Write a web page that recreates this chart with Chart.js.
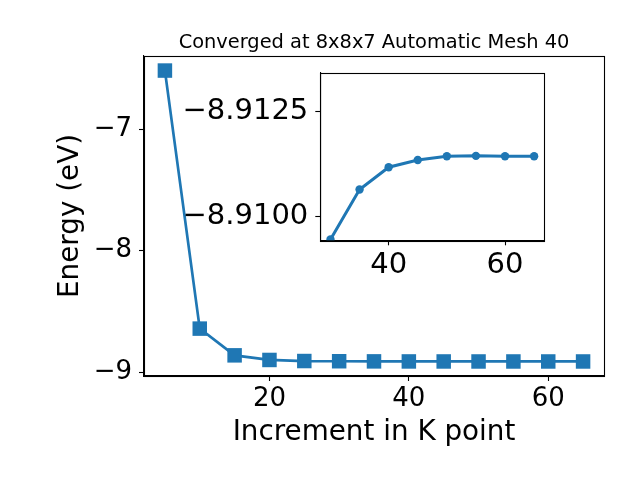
<!DOCTYPE html>
<html>
<head>
<meta charset="utf-8">
<script src="https://cdn.jsdelivr.net/npm/chart.js@4/dist/chart.umd.min.js"></script>
<style>
  html, body { margin: 0; padding: 0; background: #ffffff; }
  #wrap { position: relative; width: 640px; height: 480px; }
  #main { position: absolute; left: 0; top: 0; }
  #inset { position: absolute; left: 160px; top: 60px; }
</style>
</head>
<body>
<div id="wrap">
  <canvas id="main" width="640" height="480"></canvas>
  <canvas id="inset" width="420" height="240"></canvas>
</div>
<script>
// ---- data ----
const kPoints = [5, 10, 15, 20, 25, 30, 35, 40, 45, 50, 55, 60, 65];
const energies = [-6.517, -8.641, -8.861, -8.899, -8.9078, -8.90945, -8.91064, -8.91117, -8.91134, -8.91143, -8.91144, -8.91143, -8.91143];
const insetStartK = 30;
const mainXTicks = [20, 40, 60];
const mainYTicks = [-9, -8, -7];
const insetXTicks = [40, 60];
const insetYTicks = [-8.9125, -8.9100];
const titleText = 'Converged at 8x8x7 Automatic Mesh 40';
const xLabel = 'Increment in K point';
const yLabel = 'Energy (eV)';

const BLUE = '#1f77b4';
const FONT = "'DejaVu Sans', sans-serif";
const minus = v => (v < 0 ? '\u2212' : '') + Math.abs(v);

const mainPoints = kPoints.map((k, i) => ({ x: k, y: energies[i] }));
const insetPoints = mainPoints.filter(p => p.x >= insetStartK);

const frame = {
  id: 'frame',
  afterDraw(chart) {
    const a = chart.chartArea, ctx = chart.ctx;
    ctx.save();
    ctx.strokeStyle = '#000';
    ctx.lineWidth = 1.1;
    ctx.strokeRect(Math.round(a.left) + 0.5, Math.round(a.top) + 0.5,
                   Math.round(a.right - a.left), Math.round(a.bottom - a.top));
    ctx.restore();
  }
};

function axisCommon(fontSize) {
  return {
    grid: { display: true, drawOnChartArea: false, drawTicks: true, tickLength: 5, tickColor: '#000', tickWidth: 1.1 },
    border: { display: true, color: '#000', width: 1.1 },
    ticks: { color: '#000', font: { family: FONT, size: fontSize }, maxRotation: 0, autoSkip: false }
  };
}
const fixW = w => s => { s.width = w; s.paddingTop = 0; s.paddingBottom = 0; s.paddingLeft = 0; s.paddingRight = 0; };
const fixH = h => s => { s.height = h; s.paddingTop = 0; s.paddingBottom = 0; s.paddingLeft = 0; s.paddingRight = 0; };

// ---- main chart ----
const mx = axisCommon(26);
const my = axisCommon(26);
new Chart(document.getElementById('main'), {
  type: 'line',
  data: { datasets: [{
    data: mainPoints,
    borderColor: BLUE, backgroundColor: BLUE,
    borderWidth: 2.7,
    pointStyle: 'rect', pointRadius: 10.25, pointBorderWidth: 0,
    pointBackgroundColor: BLUE,
    tension: 0
  }]},
  options: {
    responsive: false, animation: false, devicePixelRatio: 1,
    layout: { padding: { left: 0, right: 36, top: 0, bottom: 0 } },
    plugins: {
      legend: { display: false }, tooltip: { enabled: false },
      title: {
        display: true, text: titleText, fullSize: false, color: '#000',
        font: { family: FONT, size: 19.4, weight: 'normal', lineHeight: 1.2 },
        padding: { top: 31.4, bottom: 1.3 }
      }
    },
    scales: {
      x: {
        type: 'linear', min: 2, max: 68,
        grid: mx.grid, border: mx.border,
        ticks: Object.assign({}, mx.ticks, { padding: 3, callback: v => minus(v) }),
        afterBuildTicks: s => { s.ticks = mainXTicks.map(v => ({ value: v })); },
        afterFit: fixH(104),
        title: { display: true, text: xLabel, color: '#000', font: { family: FONT, size: 27.8, lineHeight: 1.2 }, padding: { top: 0, bottom: 30.5 } }
      },
      y: {
        type: 'linear', min: -9.031, max: -6.397,
        grid: my.grid, border: my.border,
        ticks: Object.assign({}, my.ticks, { padding: 7, callback: v => minus(v) }),
        afterBuildTicks: s => { s.ticks = mainYTicks.map(v => ({ value: v })); },
        afterFit: fixW(144),
        title: { display: true, text: yLabel, color: '#000', font: { family: FONT, size: 27.8, lineHeight: 1.2 }, padding: { top: 54.5, bottom: 0 } }
      }
    }
  },
  plugins: [frame]
});

// ---- inset chart ----
const ix = axisCommon(29);
const iy = axisCommon(29);
new Chart(document.getElementById('inset'), {
  type: 'line',
  data: { datasets: [{
    data: insetPoints,
    borderColor: BLUE, backgroundColor: BLUE,
    borderWidth: 3,
    pointStyle: 'circle', pointRadius: 4.2, pointBorderWidth: 0,
    pointBackgroundColor: BLUE,
    tension: 0,
    clip: 0
  }]},
  options: {
    responsive: false, animation: false, devicePixelRatio: 1,
    layout: { padding: { left: 0, right: 35.7, top: 12.7, bottom: 0 } },
    plugins: { legend: { display: false }, tooltip: { enabled: false }, title: { display: false } },
    scales: {
      x: {
        type: 'linear', min: 28.25, max: 66.75,
        grid: ix.grid, border: ix.border,
        ticks: Object.assign({}, ix.ticks, { padding: 3, callback: v => minus(v) }),
        afterBuildTicks: s => { s.ticks = insetXTicks.map(v => ({ value: v })); },
        afterFit: fixH(59.7)
      },
      y: {
        type: 'linear', reverse: true, min: -8.91342, max: -8.90943,
        grid: iy.grid, border: iy.border,
        ticks: Object.assign({}, iy.ticks, { padding: 7, callback: v => '\u2212' + Math.abs(v).toFixed(4) }),
        afterBuildTicks: s => { s.ticks = insetYTicks.map(v => ({ value: v })); },
        afterFit: fixW(160.3)
      }
    }
  },
  plugins: [frame]
});
</script>
</body>
</html>
